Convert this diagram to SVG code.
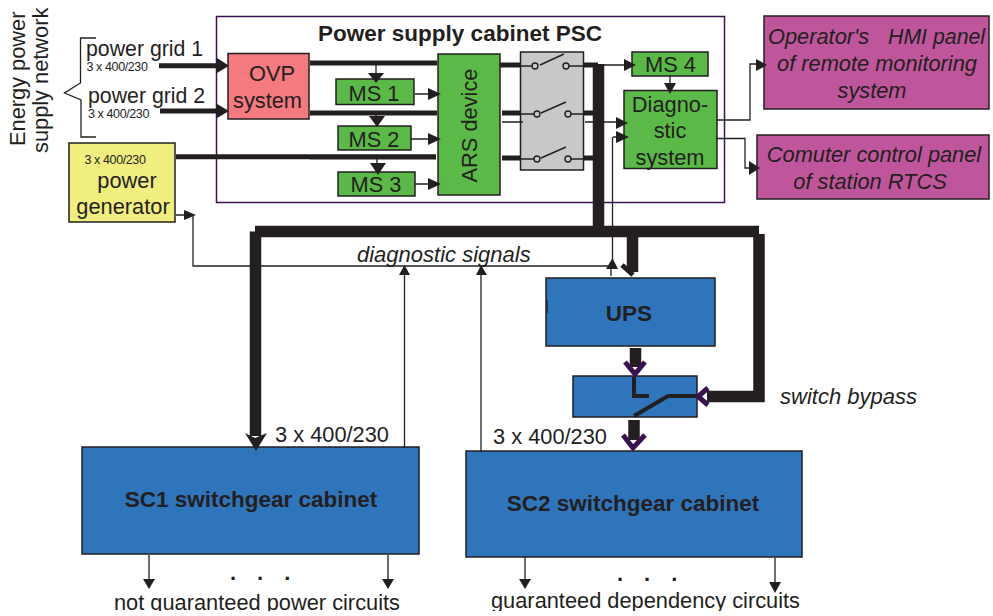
<svg xmlns="http://www.w3.org/2000/svg" width="993" height="616" viewBox="0 0 993 616">
<style>
text{font-family:"Liberation Sans",Arial,sans-serif;fill:#231f20}
.t{font-size:21.800px}.s{font-size:12.500px;letter-spacing:-.4px}.i{font-style:italic}.b{font-weight:bold;font-size:22.500px}
.m{text-anchor:middle}
.box{stroke:#231f20;stroke-width:1.500}
.g{fill:#5bb947}.p{fill:#bf569b}.bl{fill:#2f75bc}
.w{fill:none;stroke:#231f20}
.k{stroke-width:1.300}.h{stroke-width:5}.x{stroke-width:11.500}
.a{fill:#231f20}.v{fill:none;stroke:#3a124f;stroke-width:5}
.d{font-weight:bold;font-size:22px;letter-spacing:21px}
</style>
<defs><clipPath id="pageclip"><rect x="0" y="0" width="993" height="611"/></clipPath></defs>
<rect id="psc" x="216.500" y="16.500" width="508" height="186" fill="none" stroke="#3a124f" stroke-width="1.500"/>
<text class="b m" x="460" y="41">Power supply cabinet PSC</text>
<g id="labels-left">
<text class="t" transform="translate(25 146) rotate(-90)">Energy power</text>
<text class="t" transform="translate(48 153) rotate(-90)">supply network</text>
<text class="t" style="font-size:21.300px" x="86" y="56">power grid 1</text><text class="s" x="86.500" y="71">3 x 400/230</text>
<text class="t" style="font-size:21.300px" x="88" y="103">power grid 2</text><text class="s" x="88" y="118">3 x 400/230</text>
</g>
<path class="w k" d="M96 38H80.500V83L64.500 93L81 100V137H96"/>
<g id="generator"><rect class="box" x="69" y="143" width="106" height="79" fill="#f0ee7e"/><text class="s" x="84.500" y="164">3 x 400/230</text><text class="t m" x="127" y="188">power</text><text class="t m" x="123" y="214">generator</text></g>
<g id="ovp"><rect class="box" x="228" y="53.500" width="81" height="65.500" fill="#f47a7f"/><text class="t m" x="272" y="81">OVP</text><text class="t m" x="267.500" y="108">system</text></g>
<g id="ms1"><rect class="box g" x="336" y="79" width="78" height="25.500"/><text class="t m" x="374" y="101">MS 1</text></g>
<g id="ms2"><rect class="box g" x="338" y="126" width="73" height="24"/><text class="t m" x="374" y="147">MS 2</text></g>
<g id="ms3"><rect class="box g" x="338" y="172" width="77" height="24"/><text class="t m" x="376" y="192">MS 3</text></g>
<g id="ars"><rect class="box g" x="438" y="54" width="62" height="141"/><text class="t m" transform="translate(477 125.500) rotate(-90)">ARS device</text></g>
<g id="switches"><rect class="box" x="520.500" y="52" width="63" height="118" fill="#c7c8ca"/></g>
<g id="ms4"><rect class="box g" x="632" y="52" width="76" height="24"/><text class="t m" x="670.500" y="72">MS 4</text></g>
<g id="diag"><rect class="box g" x="624" y="90.500" width="93" height="78"/><text class="t m" x="670" y="112">Diagno-</text><text class="t m" x="670" y="138">stic</text><text class="t m" x="670" y="165">system</text></g>
<g id="hmi"><rect class="box p" x="764" y="16" width="225" height="93"/><text class="t i" x="768" y="44">Operator's</text><text class="t i" x="888" y="44" style="font-size:21.300px">HMI panel</text><text class="t i m" x="877" y="71">of remote monitoring</text><text class="t i m" x="872" y="98">system</text></g>
<g id="rtcs"><rect class="box p" x="757" y="135" width="232" height="64"/><text class="t i m" x="874" y="162">Comuter control panel</text><text class="t i m" x="870" y="189">of station RTCS</text></g>
<text class="t i" x="357" y="262" style="font-size:22px">diagnostic  signals</text>
<g id="ups"><rect class="box bl" x="546" y="278" width="169" height="68"/><text class="b m" x="629" y="321">UPS</text></g>
<g id="bypass"><rect class="box bl" x="573" y="376" width="124" height="41"/></g>
<text class="t i" style="font-size:22px" x="780" y="404">switch bypass</text>
<text class="t" x="275" y="442">3 x 400/230</text>
<text class="t" x="493" y="444">3 x 400/230</text>
<g id="sc1"><rect class="box bl" x="82" y="447" width="337" height="107"/><text class="b m" x="251" y="507">SC1 switchgear cabinet</text></g>
<g id="sc2"><rect class="box bl" x="466" y="451" width="336" height="106"/><text class="b m" x="633" y="511">SC2 switchgear cabinet</text></g>
<text class="d" x="230" y="580">...</text>
<text class="d" x="617" y="581">...</text>
<text class="t" clip-path="url(#pageclip)" x="114" y="610">not guaranteed power circuits</text>
<text class="t" clip-path="url(#pageclip)" x="491" y="608">guaranteed dependency circuits</text>
<g id="connectors">
<path class="w h" d="M159 65.700H222M160 111H222M176 156.700H436M310 63H437M310 113H437M310 157H436"/>
<path class="w h" d="M500 65H520M502 113H520M502 158H520M584 113H594M584 158H594M584 65H598"/>
<path class="w k" d="M376 65V78M376 113V122M377 159V170M415 94H432M411 139H432M415 184H432M502 122H523M585 122H618M613 137H620M612.500 137V260M611 268V276M602 65H628M670 76V86M716 120H750V64H758M716 138.500H745V168H751M176 215H193V266H608M404.500 448V272M481 452V272"/>
<path class="w x" d="M598.500 64V232M255 231.500H759M255.500 231.500V436M632.500 232V272M759 234V396.500H707M635.500 348V367M634 420V440"/>
<path class="w h" d="M622 265L633 275"/>
<path class="w" stroke-width="4" d="M634 377V396H649M634 416L668 396H697"/>
<path class="a" d="M217 58L229 65.700L217 73ZM217 104L229 111L217 118ZM368 73H384L376 83ZM369 116H385L377 127ZM370 163H386L378 175ZM428 88L441 94L428 100ZM428 133L441 139L428 145ZM428 178L441 184L428 190ZM616 117L628 123L616 129ZM616 131L629 137L616 143ZM624 59L636 65L624 71ZM664 83H676L670 94ZM756 59L767 65L756 71ZM749 161L760 168L749 175ZM184 210L196 215L184 220ZM606 269L612.500 258L618 269ZM399 275L404.500 265L410 275ZM476 275L481 265L487 275ZM245 433L255 438L267 433L256 451Z"/>
<path class="v" d="M625 362L635 374L645 362M623 435L633 448L645 435M708 388L698 396.500L708 405"/>
<path class="w k" d="M149 555V582M388 555V582M525 557V582M775 558V586M547 300V313"/>
<path class="a" d="M143 579H155L149 589ZM382 579H394L388 589ZM519 579H531L525 589ZM769 582H781L775 593Z"/>
<g fill="none" stroke="#231f20" stroke-width="1.400"><path d="M509 66H532M540 65L564 54M569 66H590M509 114H534M541 113L566 102M571 114H590M509 159H534M541 158L566 147M571 159H590"/><circle cx="535" cy="66" r="3"/><circle cx="566" cy="66" r="3"/><circle cx="537" cy="114" r="3"/><circle cx="568" cy="114" r="3"/><circle cx="537" cy="159" r="3"/><circle cx="568" cy="159" r="3"/></g>
</g>
</svg>
